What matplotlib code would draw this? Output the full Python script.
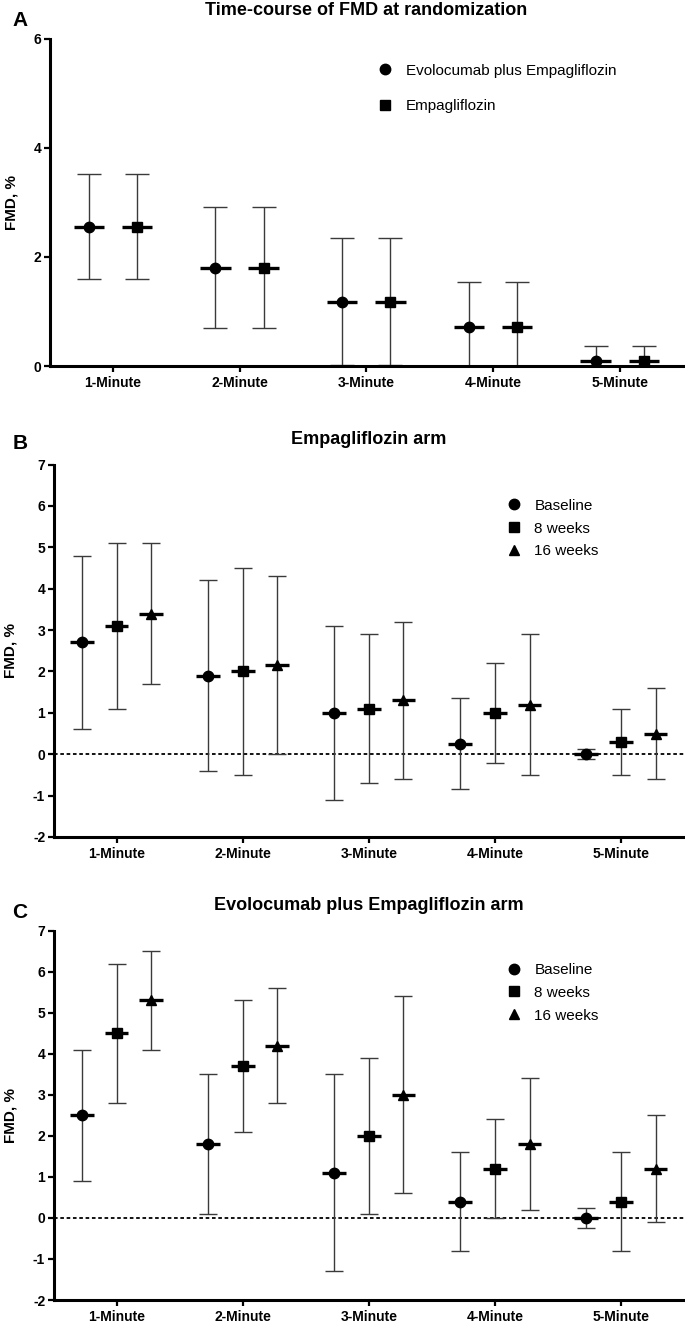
import matplotlib
matplotlib.use("Agg")
import matplotlib.pyplot as plt
import numpy as np

plt.rcParams['font.family'] = ['Liberation Sans', 'DejaVu Sans']
plt.rcParams['axes.unicode_minus'] = False

categories = ["1-Minute", "2-Minute", "3-Minute", "4-Minute", "5-Minute"]

# Panel A: time-course at randomization (median, lower, upper)
a_labels = ["Evolocumab plus Empagliflozin", "Empagliflozin"]
a_evo_med = [2.55, 1.80, 1.18, 0.72, 0.10]
a_evo_lo = [1.60, 0.69, 0.02, 0.0, 0.0]
a_evo_hi = [3.51, 2.92, 2.35, 1.54, 0.37]
a_emp_med = [2.55, 1.80, 1.18, 0.72, 0.10]
a_emp_lo = [1.60, 0.69, 0.02, 0.0, 0.0]
a_emp_hi = [3.51, 2.92, 2.35, 1.54, 0.37]

time_labels = ["Baseline", "8 weeks", "16 weeks"]

# Panel B: Empagliflozin arm
b_base_med = [2.7, 1.9, 1.0, 0.25, 0.0]
b_base_lo = [0.6, -0.4, -1.1, -0.85, -0.12]
b_base_hi = [4.8, 4.2, 3.1, 1.35, 0.12]
b_w8_med = [3.1, 2.0, 1.1, 1.0, 0.3]
b_w8_lo = [1.1, -0.5, -0.7, -0.2, -0.5]
b_w8_hi = [5.1, 4.5, 2.9, 2.2, 1.1]
b_w16_med = [3.4, 2.15, 1.3, 1.2, 0.5]
b_w16_lo = [1.7, 0.0, -0.6, -0.5, -0.6]
b_w16_hi = [5.1, 4.3, 3.2, 2.9, 1.6]

# Panel C: Evolocumab plus Empagliflozin arm
c_base_med = [2.5, 1.8, 1.1, 0.4, 0.0]
c_base_lo = [0.9, 0.1, -1.3, -0.8, -0.25]
c_base_hi = [4.1, 3.5, 3.5, 1.6, 0.25]
c_w8_med = [4.5, 3.7, 2.0, 1.2, 0.4]
c_w8_lo = [2.8, 2.1, 0.1, 0.0, -0.8]
c_w8_hi = [6.2, 5.3, 3.9, 2.4, 1.6]
c_w16_med = [5.3, 4.2, 3.0, 1.8, 1.2]
c_w16_lo = [4.1, 2.8, 0.6, 0.2, -0.1]
c_w16_hi = [6.5, 5.6, 5.4, 3.4, 2.5]

W, H = 685, 1322
fig = plt.figure(figsize=(W / 100, H / 100), dpi=100)


def px_axes(left, top, right, bottom):
    return fig.add_axes([left / W, 1 - bottom / H, (right - left) / W, (bottom - top) / H])


def style_axes(ax, ylim, yticks):
    ax.set_xlim(0.5, 5.5)
    ax.set_ylim(*ylim)
    ax.set_yticks(yticks)
    ax.set_xticks(np.arange(1, 6))
    ax.set_xticklabels(categories, fontsize=10, fontweight='bold')
    for lab in ax.get_yticklabels():
        lab.set_fontsize(10)
        lab.set_fontweight('bold')
    for s in ['top', 'right']:
        ax.spines[s].set_visible(False)
    for s in ['left', 'bottom']:
        ax.spines[s].set_linewidth(2.2)
    ax.tick_params(axis='both', width=1.6, length=4.5, pad=1.5)
    ax.tick_params(axis='x', pad=2.5)
    ax.set_ylabel("FMD, %", fontsize=11, fontweight='bold', labelpad=11)


def draw_series(ax, xpos, med, lo, hi, marker, label, half, cap):
    med = np.asarray(med); lo = np.asarray(lo); hi = np.asarray(hi)
    ax.errorbar(xpos, med, yerr=[med - lo, hi - med], fmt='none',
                ecolor='#3a3a3a', elinewidth=1.0, capsize=cap, capthick=1.0, zorder=2)
    ax.errorbar(xpos, med, xerr=half, fmt='none', ecolor='black',
                elinewidth=2.4, capsize=0, zorder=3)
    ax.plot(xpos, med, linestyle='none', marker=marker, color='black',
            markersize=7.5, label=label, zorder=4)


x = np.arange(1, 6)

# Panel A
axA = px_axes(49.5, 38.5, 683, 366)
draw_series(axA, x - 0.19, a_evo_med, a_evo_lo, a_evo_hi, 'o', a_labels[0], 0.12, 8.5)
draw_series(axA, x + 0.19, a_emp_med, a_emp_lo, a_emp_hi, 's', a_labels[1], 0.12, 8.5)
style_axes(axA, (0, 6), [0, 2, 4, 6])
axA.set_title("Time-course of FMD at randomization", fontsize=13, fontweight='bold', pad=17)
axA.legend(loc='upper left', bbox_to_anchor=(0.49, 0.965), frameon=False, fontsize=11,
           handletextpad=0.6, labelspacing=1.4, handlelength=1.5)
fig.text(20 / W, 1 - 21 / H, "A", fontsize=15, fontweight='bold', ha='center', va='center')

# Panel B
axB = px_axes(53.5, 464.5, 684, 837)
offs = [-0.275, 0.0, 0.275]
for off, med, lo, hi, mk, lab in zip(
        offs, [b_base_med, b_w8_med, b_w16_med], [b_base_lo, b_w8_lo, b_w16_lo],
        [b_base_hi, b_w8_hi, b_w16_hi], ['o', 's', '^'], time_labels):
    draw_series(axB, x + off, med, lo, hi, mk, lab, 0.094, 6.5)
axB.axhline(0, color='black', linestyle=(0, (2, 1.5)), linewidth=1.3, zorder=1)
style_axes(axB, (-2, 7), np.arange(-2, 8))
axB.set_title("Empagliflozin arm", fontsize=13, fontweight='bold', pad=15)
axB.legend(loc='upper left', bbox_to_anchor=(0.69, 0.945), frameon=False, fontsize=11,
           handletextpad=0.6, labelspacing=0.58, handlelength=1.5)
fig.text(20 / W, 1 - 444 / H, "B", fontsize=15, fontweight='bold', ha='center', va='center')

# Panel C
axC = px_axes(53.5, 930.7, 684, 1300)
for off, med, lo, hi, mk, lab in zip(
        offs, [c_base_med, c_w8_med, c_w16_med], [c_base_lo, c_w8_lo, c_w16_lo],
        [c_base_hi, c_w8_hi, c_w16_hi], ['o', 's', '^'], time_labels):
    draw_series(axC, x + off, med, lo, hi, mk, lab, 0.094, 6.5)
axC.axhline(0, color='black', linestyle=(0, (2, 1.5)), linewidth=1.3, zorder=1)
style_axes(axC, (-2, 7), np.arange(-2, 8))
axC.set_title("Evolocumab plus Empagliflozin arm", fontsize=13, fontweight='bold', pad=15)
axC.legend(loc='upper left', bbox_to_anchor=(0.69, 0.95), frameon=False, fontsize=11,
           handletextpad=0.6, labelspacing=0.58, handlelength=1.5)
fig.text(20 / W, 1 - 912 / H, "C", fontsize=15, fontweight='bold', ha='center', va='center')

fig.savefig("out.png", dpi=100)
